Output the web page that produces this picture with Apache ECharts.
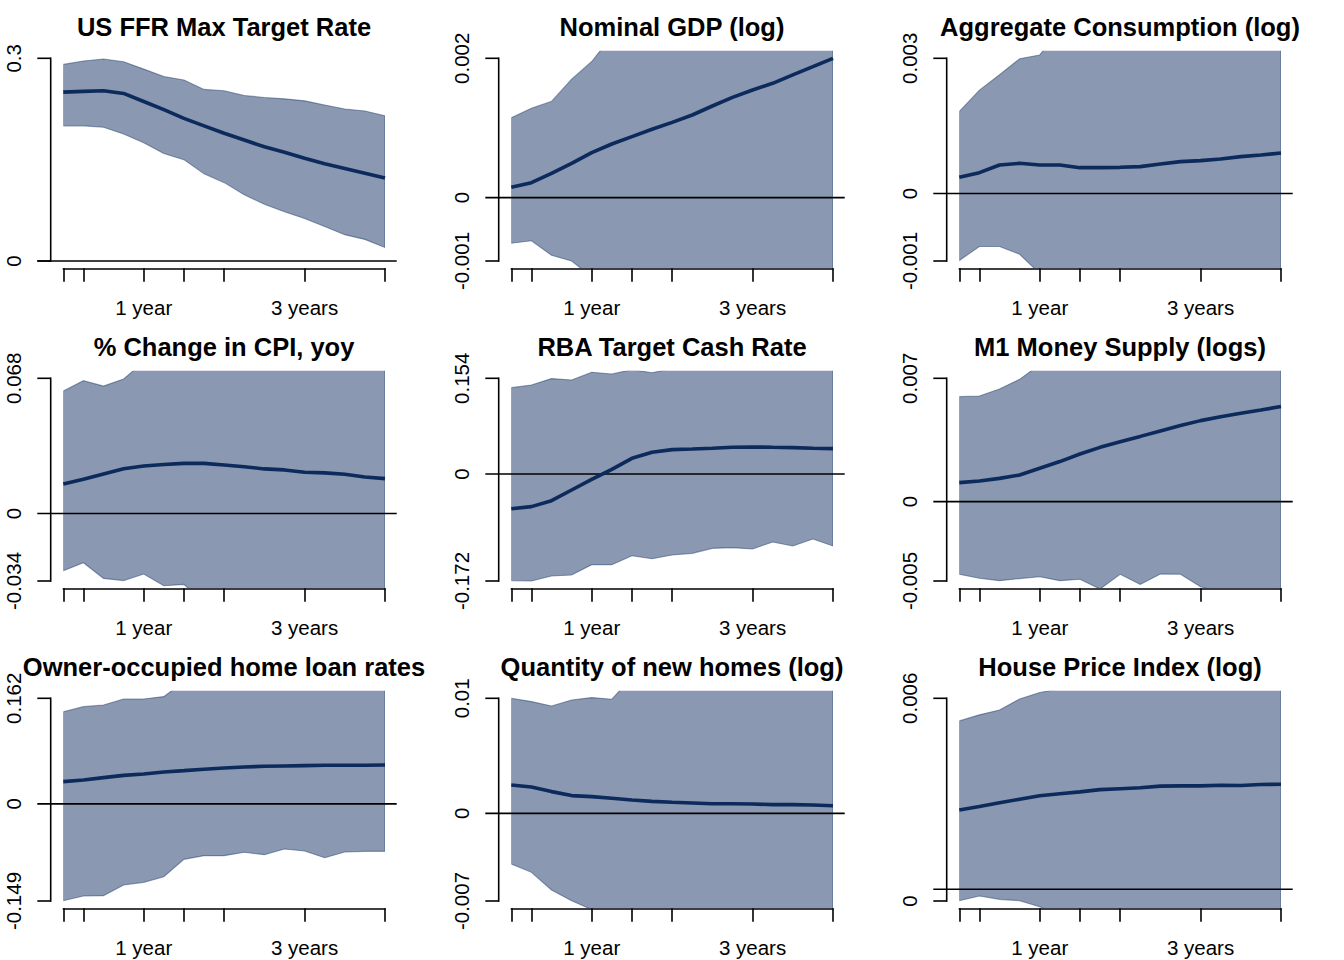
<!DOCTYPE html>
<html>
<head>
<meta charset="utf-8">
<script src="https://cdn.jsdelivr.net/npm/echarts@6/dist/echarts.min.js"></script>
<style>
html,body{margin:0;padding:0;background:#ffffff;}
#chart{width:1344px;height:960px;}
</style>
</head>
<body>
<div id="chart"></div>
<script>
// ---------------- DATA ----------------
const quarters = [0,1,2,3,4,5,6,7,8,9,10,11,12,13,14,15,16];
const xTickValues = [0,1,4,6,8,12,16];
const xLabelValues = [4,12];
const xLabelTexts = ['1 year','3 years'];

const titles = [
  'US FFR Max Target Rate','Nominal GDP (log)','Aggregate Consumption (log)',
  '% Change in CPI, yoy','RBA Target Cash Rate','M1 Money Supply (logs)',
  'Owner-occupied home loan rates','Quantity of new homes (log)','House Price Index (log)'
];

// US FFR Max Target Rate
const ffrMedian = [0.250,0.251,0.252,0.248,0.236,0.224,0.211,0.200,0.189,0.179,0.169,0.161,0.152,0.144,0.137,0.130,0.123];
const ffrUpper  = [0.291,0.296,0.299,0.295,0.284,0.273,0.268,0.254,0.252,0.245,0.242,0.240,0.237,0.231,0.225,0.222,0.215];
const ffrLower  = [0.200,0.200,0.198,0.188,0.175,0.159,0.150,0.129,0.116,0.098,0.084,0.073,0.063,0.051,0.039,0.032,0.020];
const ffrTicks = [0, 0.3];
const ffrLabelVals = [0, 0.3];
const ffrLabelTexts = ['0','0.3'];

// Nominal GDP (log)
const gdpMedian = [0.000163,0.000237,0.000384,0.000542,0.00071,0.000847,0.000963,0.001079,0.001189,0.001305,0.001447,0.001584,0.0017,0.001805,0.001937,0.002068,0.0022];
const gdpUpper  = [0.00126,0.00141,0.00152,0.00187,0.00215,0.00255,0.0029,0.0032,0.0035,0.0038,0.0041,0.0044,0.0047,0.0050,0.0053,0.0056,0.0059];
const gdpLower  = [-0.00072,-0.00068,-0.00091,-0.00100,-0.00125,-0.0015,-0.0017,-0.0019,-0.0021,-0.0023,-0.0025,-0.0027,-0.0029,-0.0031,-0.0033,-0.0035,-0.0037];
const gdpTicks = [-0.001, 0.0022];
const gdpLabelVals = [-0.001, 0, 0.0022];
const gdpLabelTexts = ['-0.001','0','0.002'];

// Aggregate Consumption (log)
const conMedian = [0.000334,0.00043,0.000589,0.000624,0.000589,0.000589,0.000534,0.000534,0.000541,0.000555,0.00061,0.000659,0.000679,0.000714,0.000762,0.000797,0.000838];
const conUpper  = [0.0017,0.00214,0.00246,0.00279,0.00287,0.0034,0.0037,0.0040,0.0043,0.0046,0.0049,0.0052,0.0055,0.0058,0.0061,0.0064,0.0067];
const conLower  = [-0.00139,-0.0011,-0.0011,-0.00126,-0.00166,-0.0019,-0.0021,-0.0023,-0.0025,-0.0027,-0.0029,-0.0031,-0.0033,-0.0035,-0.0037,-0.0039,-0.0041];
const conTicks = [-0.0014, 0.0028];
const conLabelVals = [-0.0014, 0, 0.0028];
const conLabelTexts = ['-0.001','0','0.003'];

// % Change in CPI, yoy
const cpiMedian = [0.0148,0.0172,0.0199,0.0225,0.0239,0.0246,0.0252,0.0252,0.0244,0.0235,0.0224,0.0219,0.0207,0.0204,0.0197,0.0183,0.0175];
const cpiUpper  = [0.0616,0.0668,0.0641,0.0677,0.0762,0.080,0.083,0.086,0.089,0.092,0.095,0.098,0.101,0.104,0.107,0.110,0.113];
const cpiLower  = [-0.0288,-0.0248,-0.0327,-0.0338,-0.0305,-0.0364,-0.0357,-0.045,-0.047,-0.049,-0.051,-0.053,-0.055,-0.057,-0.059,-0.061,-0.063];
const cpiTicks = [-0.034, 0.068];
const cpiLabelVals = [-0.034, 0, 0.068];
const cpiLabelTexts = ['-0.034','0','0.068'];

// RBA Target Cash Rate
const rbaMedian = [-0.0557,-0.0524,-0.0428,-0.0256,-0.0085,0.0076,0.0253,0.035,0.0393,0.0403,0.0414,0.043,0.0436,0.043,0.0425,0.0414,0.0409];
const rbaUpper  = [0.139,0.1433,0.1535,0.1513,0.1637,0.161,0.168,0.163,0.170,0.175,0.180,0.185,0.190,0.195,0.200,0.205,0.210];
const rbaLower  = [-0.1715,-0.172,-0.164,-0.1624,-0.1457,-0.1457,-0.1313,-0.1361,-0.1302,-0.1275,-0.1195,-0.1184,-0.1205,-0.1093,-0.1157,-0.1044,-0.1157];
const rbaTicks = [-0.172, 0.154];
const rbaLabelVals = [-0.172, 0, 0.154];
const rbaLabelTexts = ['-0.172','0','0.154'];

// M1 Money Supply (logs)
const m1Median = [0.00111,0.00121,0.00136,0.00156,0.00195,0.00234,0.00278,0.00317,0.0035,0.00381,0.00413,0.00444,0.00473,0.00496,0.00516,0.00535,0.00555];
const m1Upper  = [0.00613,0.00617,0.00658,0.00714,0.0080,0.0085,0.0090,0.0095,0.0100,0.0105,0.0110,0.0115,0.0120,0.0125,0.0130,0.0135,0.0140];
const m1Lower  = [-0.00424,-0.00447,-0.00461,-0.00449,-0.00438,-0.00461,-0.00453,-0.0051,-0.00424,-0.00483,-0.00422,-0.00424,-0.00496,-0.0053,-0.0055,-0.0056,-0.0057];
const m1Ticks = [-0.00463, 0.0072];
const m1LabelVals = [-0.00463, 0, 0.0072];
const m1LabelTexts = ['-0.005','0','0.007'];

// Owner-occupied home loan rates
const loanMedian = [0.0341,0.0367,0.0403,0.0438,0.0459,0.049,0.051,0.0531,0.0551,0.0566,0.0577,0.0582,0.0587,0.0592,0.0592,0.0592,0.0597];
const loanUpper  = [0.1415,0.1492,0.1518,0.161,0.161,0.1646,0.1876,0.192,0.196,0.200,0.204,0.208,0.212,0.216,0.220,0.224,0.228];
const loanLower  = [-0.1485,-0.1413,-0.1408,-0.1245,-0.1204,-0.1117,-0.0851,-0.0794,-0.0794,-0.0743,-0.0779,-0.0692,-0.0723,-0.0825,-0.0738,-0.0728,-0.0728];
const loanTicks = [-0.149, 0.162];
const loanLabelVals = [-0.149, 0, 0.162];
const loanLabelTexts = ['-0.149','0','0.162'];

// Quantity of new homes (log)
const homesMedian = [0.00242,0.00224,0.00185,0.00151,0.00142,0.00128,0.00114,0.00102,0.00094,0.00088,0.00082,0.00082,0.0008,0.00074,0.00074,0.00071,0.00065];
const homesUpper  = [0.0098,0.00952,0.00915,0.00966,0.00986,0.00972,0.0116,0.012,0.0125,0.013,0.0135,0.014,0.0145,0.015,0.0155,0.016,0.0165];
const homesLower  = [-0.00432,-0.00503,-0.00653,-0.00744,-0.0082,-0.0088,-0.0093,-0.0098,-0.0103,-0.0108,-0.0113,-0.0118,-0.0123,-0.0128,-0.0133,-0.0138,-0.0143];
const homesTicks = [-0.00747, 0.0098];
const homesLabelVals = [-0.00747, 0, 0.0098];
const homesLabelTexts = ['-0.007','0','0.01'];

// House Price Index (log)
const hpiMedian = [0.00249,0.0026,0.00272,0.00283,0.00294,0.0030,0.00306,0.00313,0.00316,0.00319,0.00324,0.00325,0.00325,0.00327,0.00326,0.00329,0.0033];
const hpiUpper  = [0.00529,0.00548,0.00563,0.00598,0.00618,0.0063,0.0065,0.0067,0.0069,0.0071,0.0073,0.0075,0.0077,0.0079,0.0081,0.0083,0.0085];
const hpiLower  = [-0.000358,-0.000211,-0.000316,-0.000358,-0.00055,-0.0008,-0.0010,-0.0012,-0.0014,-0.0016,-0.0018,-0.0020,-0.0022,-0.0024,-0.0026,-0.0028,-0.0030];
const hpiTicks = [-0.000368, 0.006];
const hpiLabelVals = [-0.000368, 0.006];
const hpiLabelTexts = ['0','0.006'];

// ---------------- BUILD ----------------
const panels = [
  {med: ffrMedian,  up: ffrUpper,  lo: ffrLower,  ticks: ffrTicks,  lv: ffrLabelVals,  lt: ffrLabelTexts},
  {med: gdpMedian,  up: gdpUpper,  lo: gdpLower,  ticks: gdpTicks,  lv: gdpLabelVals,  lt: gdpLabelTexts},
  {med: conMedian,  up: conUpper,  lo: conLower,  ticks: conTicks,  lv: conLabelVals,  lt: conLabelTexts},
  {med: cpiMedian,  up: cpiUpper,  lo: cpiLower,  ticks: cpiTicks,  lv: cpiLabelVals,  lt: cpiLabelTexts},
  {med: rbaMedian,  up: rbaUpper,  lo: rbaLower,  ticks: rbaTicks,  lv: rbaLabelVals,  lt: rbaLabelTexts},
  {med: m1Median,   up: m1Upper,   lo: m1Lower,   ticks: m1Ticks,   lv: m1LabelVals,   lt: m1LabelTexts},
  {med: loanMedian, up: loanUpper, lo: loanLower, ticks: loanTicks, lv: loanLabelVals, lt: loanLabelTexts},
  {med: homesMedian,up: homesUpper,lo: homesLower,ticks: homesTicks,lv: homesLabelVals,lt: homesLabelTexts},
  {med: hpiMedian,  up: hpiUpper,  lo: hpiLower,  ticks: hpiTicks,  lv: hpiLabelVals,  lt: hpiLabelTexts}
];

const FONT = '"Liberation Sans", Arial, Helvetica, sans-serif';
const PW = 448, PH = 320;
const GL = 63.3, GT = 50.7, GW = 321.7, GH = 217.6;
const BAND_FILL = 'rgba(21,50,99,0.5)';
const BAND_EDGE = 'rgba(21,50,99,0.45)';
const MED_COLOR = '#0c2a5b';
const AX_W = 1.6;

const grids = [], xAxes = [], yAxes = [], series = [], titleOpts = [];
const qFirst = quarters[0], qLast = quarters[quarters.length - 1];

panels.forEach((p, i) => {
  const c = i % 3, r = Math.floor(i / 3);
  const ox = c * PW, oy = r * PH;
  const lo = p.ticks[0], hi = p.ticks[1], span = hi - lo;
  grids.push({left: ox + GL, top: oy + GT, width: GW, height: GH, containLabel: false});
  xAxes.push({
    type: 'value', gridIndex: i, min: qFirst, max: qLast,
    axisLine: {show: true, onZero: false, lineStyle: {color: '#000', width: AX_W}},
    axisTick: {show: true, customValues: xTickValues, length: 13.5, lineStyle: {color: '#000', width: AX_W}},
    axisLabel: {show: true, customValues: xLabelValues, margin: 29,
      formatter: v => xLabelTexts[xLabelValues.indexOf(v)] || '',
      color: '#000', fontSize: 20.5, fontFamily: FONT},
    splitLine: {show: false}
  });
  yAxes.push({type: 'value', gridIndex: i, min: lo - 0.036 * span, max: hi + 0.0375 * span, show: false});
  titleOpts.push({
    text: titles[i], left: ox + 224, top: oy + 27, padding: 0,
    textAlign: 'center', textVerticalAlign: 'middle',
    textStyle: {fontSize: 25.5, fontWeight: 'bold', color: '#000', fontFamily: FONT}
  });

  // confidence band
  series.push({
    type: 'custom', xAxisIndex: i, yAxisIndex: i, z: 1, silent: true,
    data: quarters.map((q, k) => [q, p.lo[k], p.up[k]]),
    renderItem: (params, api) => {
      if (params.dataIndex !== 0) return null;
      const pts = [];
      quarters.forEach((q, k) => pts.push(api.coord([q, p.up[k]])));
      for (let k = quarters.length - 1; k >= 0; k--) pts.push(api.coord([quarters[k], p.lo[k]]));
      const cs = params.coordSys;
      return {
        type: 'polygon', shape: {points: pts},
        style: {fill: BAND_FILL, stroke: BAND_EDGE, lineWidth: 1.1},
        clipPath: {type: 'rect', shape: {x: cs.x, y: cs.y, width: cs.width, height: cs.height}}
      };
    }
  });

  // zero reference line
  series.push({
    type: 'custom', xAxisIndex: i, yAxisIndex: i, z: 3, silent: true,
    data: [[qFirst, 0]],
    renderItem: (params, api) => {
      const a = api.coord([qFirst, 0]), b = api.coord([qLast, 0]);
      return {type: 'line', shape: {x1: a[0] - 26, y1: a[1], x2: b[0] + 11.7, y2: b[1]},
        style: {stroke: '#000', lineWidth: AX_W}};
    }
  });

  // y axis line + ticks
  series.push({
    type: 'custom', xAxisIndex: i, yAxisIndex: i, z: 3, silent: true,
    data: p.ticks.map(v => [qFirst, v]),
    renderItem: (params, api) => {
      const pt = api.coord([qFirst, api.value(1)]);
      const xa = pt[0] - 12.6;
      const children = [{type: 'line', shape: {x1: xa - 13.4, y1: pt[1], x2: xa, y2: pt[1]},
        style: {stroke: '#000', lineWidth: AX_W}}];
      if (params.dataIndex === 0) {
        const top = api.coord([qFirst, p.ticks[1]]);
        children.push({type: 'line', shape: {x1: xa, y1: pt[1] + AX_W / 2, x2: xa, y2: top[1] - AX_W / 2},
          style: {stroke: '#000', lineWidth: AX_W}});
      }
      return {type: 'group', children};
    }
  });

  // y axis labels (rotated)
  series.push({
    type: 'custom', xAxisIndex: i, yAxisIndex: i, z: 3, silent: true,
    data: p.lv.map(v => [qFirst, v]),
    renderItem: (params, api) => {
      const pt = api.coord([qFirst, api.value(1)]);
      return {type: 'text', x: pt[0] - 49.8, y: pt[1], rotation: Math.PI / 2,
        style: {text: p.lt[params.dataIndex], fill: '#000', fontSize: 20.5, fontFamily: FONT,
          align: 'center', verticalAlign: 'middle'}};
    }
  });

  // median response
  series.push({
    type: 'line', xAxisIndex: i, yAxisIndex: i, z: 4, silent: true,
    data: quarters.map((q, k) => [q, p.med[k]]),
    showSymbol: false, symbol: 'none',
    lineStyle: {color: MED_COLOR, width: 3.6}
  });
});

const chart = echarts.init(document.getElementById('chart'), null, {renderer: 'svg', width: 1344, height: 960});
chart.setOption({
  backgroundColor: '#ffffff',
  animation: false,
  title: titleOpts,
  grid: grids,
  xAxis: xAxes,
  yAxis: yAxes,
  tooltip: {show: false},
  series: series
});
</script>
</body>
</html>
